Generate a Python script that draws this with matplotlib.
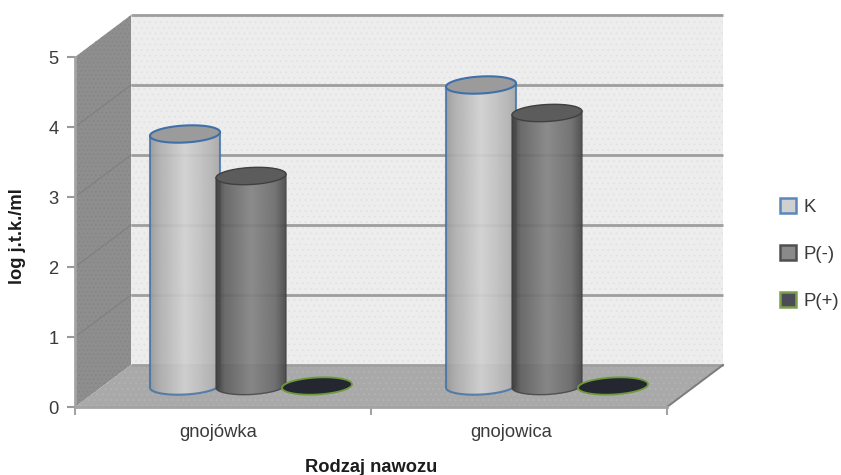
import numpy as np
import matplotlib
matplotlib.use("Agg")
import matplotlib.pyplot as plt
from matplotlib.patches import Patch, Polygon
from matplotlib.path import Path

plt.rcParams["font.family"] = ["Liberation Sans", "DejaVu Sans"]
plt.rcParams["hatch.linewidth"] = 0.6

categories = ["gnojówka", "gnojowica"]
series_names = ["K", "P(-)", "P(+)"]
k_values = [3.6, 4.3]
p_minus_values = [3.0, 3.9]
p_plus_values = [0.0, 0.0]
y_ticks = [0, 1, 2, 3, 4, 5]

W, H = 841, 475
LEFT, RIGHT, Y0, Y5 = 75, 667, 407, 57
X_PER_PX = 2 / (RIGHT - LEFT)
Y_PER_PX = 5 / (Y0 - Y5)

# oblique depth of the 3-D box, in data units
DX = 56 * X_PER_PX
DY = 0.6
BAR_W = 70 * X_PER_PX
BAR_STEP = 66 * X_PER_PX
ELL_H = 8.5 * Y_PER_PX
ELL_TILT = 1.8 * Y_PER_PX

TEXT = "#3a3a3a"
GRID = "#9e9e9e"

fig = plt.figure(figsize=(W / 100, H / 100), dpi=100)
ax = fig.add_axes([LEFT / W, 1 - Y0 / H, (RIGHT - LEFT) / W, (Y0 - Y5) / H])
ax.set_facecolor("none")


def ellipse_points(cx, cy, start=0.0, stop=2 * np.pi, n=80):
    t = np.linspace(start, stop, n)
    return np.column_stack([
        cx + BAR_W / 2 * np.cos(t),
        cy + ELL_H * np.sin(t) + ELL_TILT * np.cos(t),
    ])


def draw_cylinder(cx, base, value, stops, edge, top_face, line_w, z):
    if value > 0:
        lower = ellipse_points(cx, base, np.pi, 2 * np.pi)
        upper = ellipse_points(cx, base + value, 0, np.pi)
        outline = np.vstack([lower, upper, lower[:1]])
        shade = np.interp(np.linspace(0, 1, 256), [0, 0.12, 0.5, 0.85, 1], stops)
        img = ax.imshow(shade[None, :], cmap="gray", vmin=0, vmax=1, aspect="auto",
                        extent=[cx - BAR_W / 2, cx + BAR_W / 2, base - 0.2, base + value + 0.2],
                        alpha=0.93, zorder=z, interpolation="bilinear")
        img.set_clip_path(Path(outline), ax.transData)
        side = np.vstack([upper[-1:], lower, upper[:1]])
        ax.plot(side[:, 0], side[:, 1], color=edge, lw=line_w, alpha=0.8,
                zorder=z + 0.1, clip_on=False)
    top = Polygon(ellipse_points(cx, base + value), closed=True, facecolor=top_face,
                  edgecolor=edge, lw=line_w, zorder=z + 0.2, clip_on=False)
    ax.add_patch(top)


# side wall, floor and back wall of the box
ax.add_patch(Polygon([(0, 0), (DX, DY), (DX, 5 + DY), (0, 5)], closed=True,
                     facecolor="#8e8e8e", edgecolor="#858585", hatch="....", lw=0,
                     zorder=1, clip_on=False))
ax.add_patch(Polygon([(DX, DY), (2 + DX, DY), (2 + DX, 5 + DY), (DX, 5 + DY)], closed=True,
                     facecolor="#ededed", edgecolor="#e2e2e2", hatch="...", lw=0,
                     zorder=1, clip_on=False))
ax.add_patch(Polygon([(0, 0), (2, 0), (2 + DX, DY), (DX, DY)], closed=True,
                     facecolor="#a9a9a9", edgecolor="#b4b4b4", hatch="...", lw=0,
                     zorder=1, clip_on=False))

# gridlines run along the side wall and across the back wall
for v in y_ticks:
    if 0 < v < 5:
        ax.plot([0, DX], [v, v + DY], color="#7f7f7f", lw=0.8, zorder=2, clip_on=False)
    ax.plot([DX, 2 + DX], [v + DY, v + DY], color=GRID, lw=2.0, zorder=2,
            clip_on=False, solid_capstyle="butt")
ax.plot([2, 2 + DX], [0, DY], color="#7c7c7c", lw=1.4, zorder=2, clip_on=False)

styles = [
    (k_values, (0.60, 0.68, 0.82, 0.72, 0.66), "#3f70a8", "#9b9b9b", 1.5),
    (p_minus_values, (0.22, 0.38, 0.52, 0.42, 0.28), "#404040", "#5c5c5c", 1.0),
    (p_plus_values, (0.2, 0.2, 0.2, 0.2, 0.2), "#6f9a3c", "#24272f", 1.3),
]
for c, _ in enumerate(categories):
    for i, (values, stops, edge, top_face, line_w) in enumerate(styles):
        cx = c + 0.5 + DX / 2 + (i - 1) * BAR_STEP
        draw_cylinder(cx, DY / 2, values[c], stops, edge, top_face, line_w, 3 + i)

ax.set_xlim(0, 2)
ax.set_ylim(0, 5)

for side in ("top", "right"):
    ax.spines[side].set_visible(False)
for side in ("left", "bottom"):
    ax.spines[side].set_color("#a3a3a3")
    ax.spines[side].set_linewidth(2)
    ax.spines[side].set_zorder(2)

ax.set_yticks(y_ticks)
ax.set_yticklabels([str(v) for v in y_ticks], fontsize=13.2, color=TEXT)
ax.tick_params(axis="y", length=6, width=1.5, color="#9a9a9a", pad=6)
ax.set_xticks([0, 1, 2])
ax.set_xticklabels([])
ax.tick_params(axis="x", which="major", length=6, width=1.5, color="#a3a3a3")
# category names sit a little left of the slot centres
ax.set_xticks([0.484, 1.475], minor=True)
ax.set_xticklabels(categories, minor=True, fontsize=13.2, color=TEXT)
ax.tick_params(axis="x", which="minor", length=0, pad=12)

fig.text(371 / W, 1 - 467 / H, "Rodzaj nawozu", ha="center", va="center",
         fontsize=13.2, fontweight="bold", color="#1c1c1c")
fig.text(18 / W, 1 - 236 / H, "log j.t.k./ml", ha="center", va="center",
         rotation=90, fontsize=13.2, fontweight="bold", color="#1c1c1c")

handles = [
    Patch(facecolor="#d0d0d0", edgecolor="#5a88ba", lw=1.8),
    Patch(facecolor="#8a8a8a", edgecolor="#505050", lw=1.8),
    Patch(facecolor="#4a4d55", edgecolor="#7aa048", lw=1.8),
]
fig.legend(handles, series_names, loc="center left",
           bbox_to_anchor=(780 / W, 1 - 254 / H), frameon=False, fontsize=13.4,
           handlelength=0.85, handleheight=0.85, handletextpad=0.4,
           labelspacing=1.55, borderpad=0, borderaxespad=0, labelcolor=TEXT)

fig.savefig("out.png", dpi=100)
